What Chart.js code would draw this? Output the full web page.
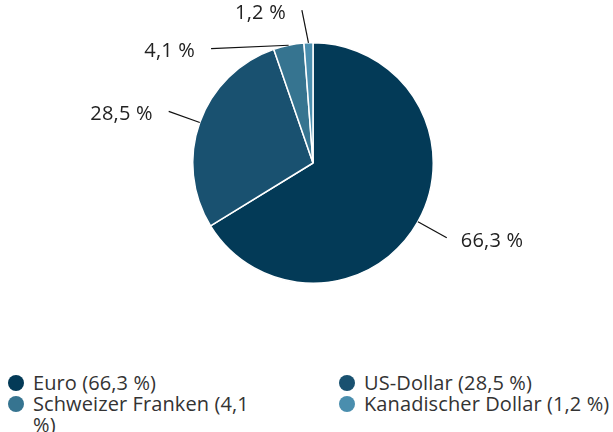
<!DOCTYPE html>
<html>
<head>
<meta charset="utf-8">
<script src="https://cdn.jsdelivr.net/npm/chart.js@4"></script>
<style>
  html, body { margin: 0; padding: 0; background: #fff; }
  body { width: 613px; height: 432px; position: relative; overflow: hidden; font-family: "Open Sans", Lato, sans-serif; color: #333; }
  #wrap { position: absolute; left: 0; top: 0; width: 613px; height: 330px; }
  #legend { position: absolute; left: 6px; top: 372px; width: 607px; display: grid; grid-template-columns: 331px 276px; row-gap: 0; }
  .item { display: flex; align-items: flex-start; font-size: 20px; line-height: 21px; letter-spacing: 0.1px; }
  .dot { flex: none; width: 16px; height: 16px; border-radius: 50%; margin: 3px 9px 0 2px; }
  .item:nth-child(odd) .txt { max-width: 228px; }
</style>
</head>
<body>
<div id="wrap"><canvas id="chartWaehrung"></canvas></div>
<div id="legend"></div>
<script>
// --- Daten ---
const waehrungen = ['Euro', 'US-Dollar', 'Schweizer Franken', 'Kanadischer Dollar'];
const anteile = [66.3, 28.5, 4.1, 1.2];
const farben = ['#033a57', '#195170', '#367490', '#4a8eae'];

function fmt(v) {
    return v.toFixed(1).replace('.', ',') + ' %';
}

// Beschriftungen mit Linien ausserhalb des Kuchens
const labelShift = [0, 0, -30, -2]; // Grad, damit sich kleine Segmente nicht ueberlappen
const aussenLabels = {
    id: 'aussenLabels',
    afterDraw(chart) {
        const ctx = chart.ctx;
        const meta = chart.getDatasetMeta(0);
        ctx.save();
        ctx.strokeStyle = '#111';
        ctx.lineWidth = 1.2;
        ctx.fillStyle = '#222';
        ctx.font = '20px "Open Sans", Lato, sans-serif';
        ctx.letterSpacing = '0.2px';
        ctx.textBaseline = 'middle';
        meta.data.forEach((arc, i) => {
            const p = arc.getProps(['x', 'y', 'startAngle', 'endAngle', 'outerRadius'], true);
            const mid = (p.startAngle + p.endAngle) / 2;
            const a2 = mid + labelShift[i] * Math.PI / 180;
            const r1 = p.outerRadius;
            const r2 = p.outerRadius + 33;
            const x1 = p.x + Math.cos(mid) * r1, y1 = p.y + Math.sin(mid) * r1;
            const x2 = p.x + Math.cos(a2) * r2, y2 = p.y + Math.sin(a2) * r2;
            ctx.beginPath();
            ctx.moveTo(x1, y1);
            ctx.lineTo(x2, y2);
            ctx.stroke();
            const right = Math.cos(a2) >= 0;
            ctx.textAlign = right ? 'left' : 'right';
            ctx.fillText(fmt(anteile[i]), x2 + (right ? 14 : -16), y2 + 3);
        });
        ctx.restore();
    }
};

new Chart(document.getElementById('chartWaehrung').getContext('2d'), {
    type: 'pie',
    data: {
        labels: waehrungen,
        datasets: [{
            data: anteile,
            backgroundColor: farben,
            borderColor: '#ffffff',
            borderWidth: 1.5
        }]
    },
    options: {
        responsive: true,
        maintainAspectRatio: false,
        animation: false,
        layout: { padding: { left: 192, right: 179, top: 42, bottom: 46 } },
        plugins: {
            legend: { display: false },
            tooltip: { enabled: false }
        }
    },
    plugins: [aussenLabels]
});

// --- Legende ---
const legend = document.getElementById('legend');
waehrungen.forEach((name, i) => {
    const el = document.createElement('div');
    el.className = 'item';
    el.innerHTML = '<span class="dot" style="background:' + farben[i] + '"></span><span class="txt">' + name + ' (' + fmt(anteile[i]) + ')</span>';
    legend.appendChild(el);
});
</script>
</body>
</html>
